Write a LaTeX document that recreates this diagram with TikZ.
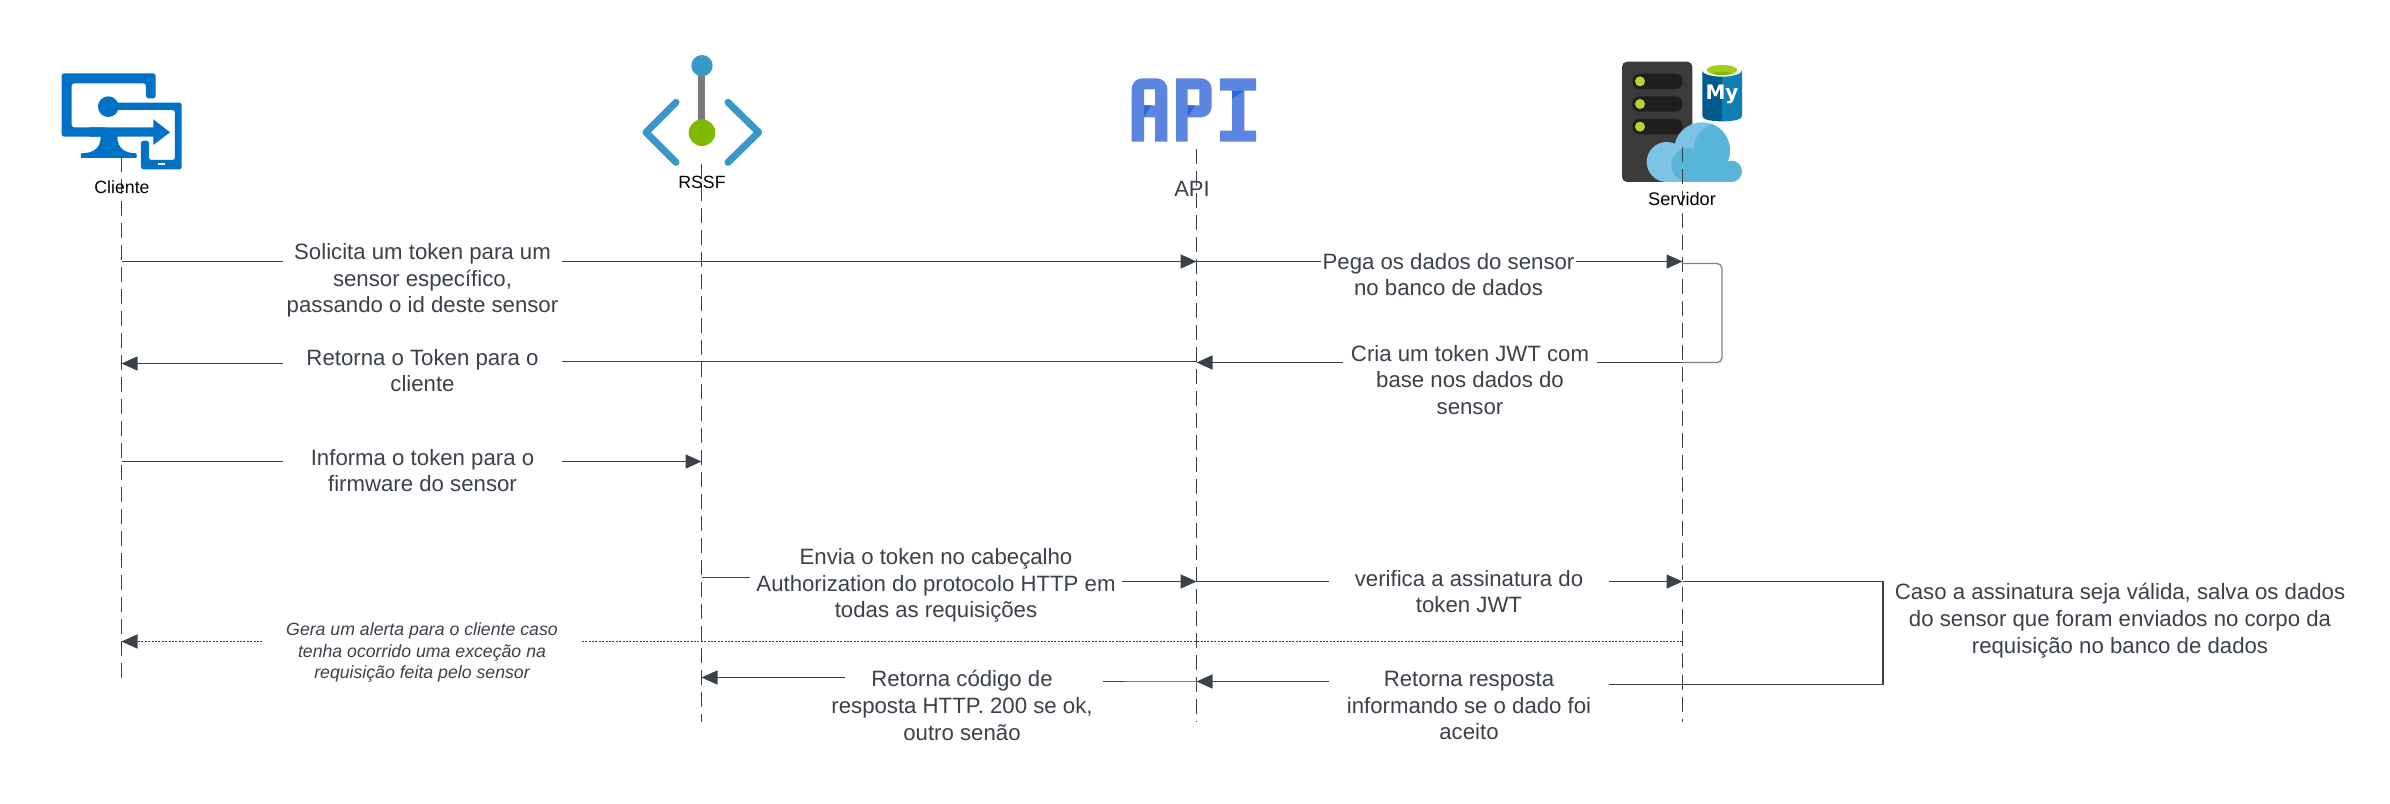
\documentclass[tikz,border=0pt]{standalone}
\usepackage{fontspec}
\setmainfont{Liberation Sans}
\newfontfamily\dejabold[BoldFont={DejaVu Sans Bold}]{DejaVu Sans}
\usetikzlibrary{arrows.meta,calc}
\definecolor{ink}{HTML}{3A414A}
\definecolor{azblue}{HTML}{0072C6}
\definecolor{azsky}{HTML}{3999C6}
\definecolor{azgreen}{HTML}{7FBA00}
\definecolor{azgrey}{HTML}{7A7A7A}
\definecolor{apiblue}{HTML}{5C85E0}
\definecolor{apidark}{HTML}{2F66DC}
\definecolor{srvbody}{HTML}{3B3B3B}
\definecolor{srvslot}{HTML}{1F1F1F}
\definecolor{srvled}{HTML}{B8D432}
\definecolor{dbdark}{HTML}{005A8C}
\definecolor{dblight}{HTML}{0F7FB4}
\definecolor{dbgreen}{HTML}{A8CC1E}
\definecolor{cloudlight}{HTML}{7DC3E3}
\definecolor{clouddark}{HTML}{59B4D9}
\tikzset{
  x=1pt,y=-1pt,
  lifeline/.style={draw=ink,line width=1.2pt,dash pattern=on 15pt off 7pt},
  msg/.style={draw=ink,line width=1.4pt},
  msgarrow/.style={msg,-{Triangle[length=16pt,width=14pt]}},
  msgfaint/.style={draw=ink!65,line width=1.3pt},
  msgdot/.style={draw=ink,line width=1.5pt,dash pattern=on 2pt off 1.4pt},
  lab/.style={text=ink,align=center,inner sep=0pt,font=\fontsize{22.2}{26.7}\selectfont},
  labit/.style={text=ink,align=center,inner sep=0pt,font=\itshape\fontsize{17.7}{21.5}\selectfont},
  actor/.style={text=black,inner sep=0pt,font=\fontsize{17.7}{21}\selectfont},
}
\begin{document}
\begin{tikzpicture}
\fill[white] (0,0) rectangle (2390,803);
\useasboundingbox (0,0) rectangle (2390,803);

% --- Cliente icon
\begin{scope}[xshift=40pt,yshift=-50pt,x=0.3333pt,y=-0.3333pt]
  \fill[azblue,rounded corners=2.5pt] (65,70) -- (347,70) -- (347,145) -- (318,145) -- (318,100) -- (95,100) -- (95,232) -- (200,232) -- (200,260) -- (65,260) -- cycle;
  \fill[azblue] (150,232) -- (340,232) -- (340,208) -- (390,247) -- (340,285) -- (340,260) -- (232,260)
     .. controls (232,295) and (255,310) .. (290,310) -- (290,324) -- (123,324) -- (123,310)
     .. controls (160,310) and (182,295) .. (182,260) -- (150,260) -- cycle;
  \fill[azblue] (205,170) circle (31);
  \fill[azblue,rounded corners=2.5pt] (225,158) -- (425,158) -- (425,358) -- (303,358) -- (303,272) -- (327,272) -- (327,330) -- (405,330) -- (405,180) -- (225,180) -- cycle;
  \fill[white] (354,338) rectangle (376,344);
\end{scope}

% --- RSSF icon
\begin{scope}[xshift=620pt,yshift=-40pt,x=0.3333pt,y=-0.3333pt]
  \fill[azgrey] (235,95) rectangle (256,250);
  \fill[azsky] (246,77) circle (32);
  \fill[azgreen] (246,278) circle (40);
  \draw[azsky,line width=7pt,line cap=round,line join=round] (168,187) -- (78,277) -- (168,367);
  \draw[azsky,line width=7pt,line cap=round,line join=round] (324,187) -- (416,277) -- (324,367);
\end{scope}

% --- API icon
\begin{scope}[xshift=1110pt,yshift=-60pt,x=0.3333pt,y=-0.3333pt]
  \fill[apiblue,even odd rule] (65,245) -- (65,90) .. controls (65,68) and (78,55) .. (100,55) -- (137,55) .. controls (159,55) and (172,68) .. (172,90) -- (172,245) -- (135,245) -- (135,172) -- (102,172) -- (102,245) -- cycle
     (102,88) rectangle (135,136);
  \fill[apidark] (102,136) -- (125,136) -- (102,170) -- cycle;
  \fill[apiblue,even odd rule] (198,245) -- (198,55) -- (270,55) .. controls (292,55) and (305,68) .. (305,90) -- (305,137) .. controls (305,159) and (292,172) .. (270,172) -- (233,172) -- (233,245) -- cycle
     (233,88) rectangle (268,136);
  \fill[apidark] (233,136) -- (255,136) -- (233,170) -- cycle;
  \fill[apiblue] (330,55) -- (438,55) -- (438,92) -- (403,92) -- (403,212) -- (438,212) -- (438,245) -- (330,245) -- (330,212) -- (366,212) -- (366,92) -- (330,92) -- cycle;
  \fill[apidark] (366,92) -- (403,92) -- (366,117) -- cycle;
\end{scope}

% --- Servidor icon
\begin{scope}[xshift=1600pt,yshift=-50pt,x=0.3333pt,y=-0.3333pt]
  \fill[srvbody,rounded corners=5pt] (66,35) rectangle (277,396);
  \foreach \yy in {71,139,207}{
    \fill[srvslot,rounded corners=7pt] (97,\yy) rectangle (248,\yy+46);
    \fill[srvled] (120,\yy+23) circle (15);
  }
  % database
  \fill[dbdark] (307,60) -- (366,60) -- (366,214) .. controls (330,214) and (307,208) .. (307,198) -- cycle;
  \fill[dblight] (366,60) -- (426,60) -- (426,198) .. controls (426,208) and (402,214) .. (366,214) -- cycle;
  \fill[white] (366,60) ellipse (60 and 20);
  \fill[dbgreen] (366,60) ellipse (46 and 15);
  \begin{scope}
    \clip (366,60) ellipse (46 and 15);
    \fill[azgreen] (366,78) ellipse (36 and 13);
  \end{scope}
  \node[text=white,inner sep=0pt,font=\dejabold\bfseries\fontsize{20}{20}\selectfont] (mylogo) at (366,133) {My};
  % cloud
  \fill[cloudlight] (200,336) circle (60);
  \fill[cloudlight] (306,301) circle (84);
  \fill[cloudlight] (200,340) rectangle (394,396);
  \fill[clouddark] (394,364) circle (32);
  \fill[clouddark] (265,345) circle (51);
  \fill[clouddark] (265,345) rectangle (394,396);
  \begin{scope}
    \clip (306,301) circle (84);
    \fill[clouddark] (365,300) circle (84);
  \end{scope}
\end{scope}

% --- Lifeline ends
\coordinate (cliT) at (121.5,157); \coordinate (cliB) at (121.5,682);
\coordinate (rssT) at (701.5,164); \coordinate (rssB) at (701.5,722);
\coordinate (apiT) at (1196.5,149); \coordinate (apiB) at (1196.5,722);
\coordinate (srvT) at (1682.5,147); \coordinate (srvB) at (1682.5,722);
\draw[lifeline] (cliT) -- (cliB);
\draw[lifeline] (rssT) -- (rssB);
\draw[lifeline] (apiT) -- (apiB);
\draw[lifeline] (srvT) -- (srvB);

% --- Actor names
\node[actor] (nCli) at (122,187) {Cliente};
\node[actor] (nRss) at (702,182) {RSSF};
\node[actor,text=ink,font=\fontsize{22}{26}\selectfont] (nApi) at (1192,189) {API};
\node[actor,font=\fontsize{18.2}{22}\selectfont] (nSrv) at (1682,199) {Servidor};

% --- Labels
\node[lab,minimum width=279pt] (l1) at (422.5,280.5) {Solicita um token para um\\sensor específico,\\passando o id deste sensor};
\node[lab,minimum width=279pt] (l2) at (422.5,370.5) {Retorna o Token para o\\cliente};
\node[lab,minimum width=279pt] (l3) at (422.5,470.5) {Informa o token para o\\firmware do sensor};
\node[lab,minimum width=372pt] (l4) at (936,585.5) {Envia o token no cabeçalho\\Authorization do protocolo HTTP em\\todas as requisições};
\node[labit,minimum width=319pt] (l5) at (422,652.5) {Gera um alerta para o cliente caso\\tenha ocorrido uma exceção na\\requisição feita pelo sensor};
\node[lab] (l6) at (962,705.5) {Retorna código de\\resposta HTTP. 200 se ok,\\outro senão};
\node[lab,minimum width=255pt] (l7) at (1448.5,274.5) {Pega os dados do sensor\\no banco de dados};
\node[lab,minimum width=254pt] (l8) at (1470,380) {Cria um token JWT com\\base nos dados do\\sensor};
\node[lab,minimum width=280pt] (l9) at (1469,591.5) {verifica a assinatura do\\token JWT};
\node[lab,minimum width=280pt] (l10) at (1469,705.5) {Retorna resposta\\informando se o dado foi\\aceito};
\node[lab] (l11) at (2120,620.5) {Caso a assinatura seja válida, salva os dados\\do sensor que foram enviados no corpo da\\requisição no banco de dados};

% --- Message anchors on the lifelines
\coordinate (a1) at (121.5,261.5); \coordinate (b1) at (1196.5,261.5);
\coordinate (a2) at (121.5,363.5); \coordinate (b2) at (1196.5,361.5);
\coordinate (a3) at (121.5,461.5); \coordinate (b3) at (701.5,461.5);
\coordinate (a4) at (701.5,577.5); \coordinate (b4) at (1196.5,581.5);
\coordinate (a5) at (121.5,641.5); \coordinate (b5) at (1682.5,641.5);
\coordinate (a6) at (701.5,677.5); \coordinate (b6) at (1196.5,681.5);
\coordinate (f6) at (1125,681.5);
\coordinate (a7) at (1196.5,261.5); \coordinate (b7) at (1682.5,261.5);
\coordinate (a8) at (1196.5,362.5); \coordinate (m8) at (1682.5,362.5); \coordinate (c8) at (1722,362.5); \coordinate (d8) at (1722,263.5); \coordinate (e8) at (1682.5,263.5);
\coordinate (a9) at (1196.5,581.5); \coordinate (b9) at (1682.5,581.5);
\coordinate (a10) at (1196.5,681.5); \coordinate (c10) at (1883,684.5); \coordinate (d10) at (1883,581.5);

% --- Connectors
\draw[msg] (a1) -- (l1.west |- a1);
\draw[msgarrow] (l1.east |- b1) -- (b1);
\draw[msgarrow] (l2.west |- a2) -- (a2);
\draw[msg] (b2) -- (l2.east |- b2);
\draw[msg] (a3) -- (l3.west |- a3);
\draw[msgarrow] (l3.east |- b3) -- (b3);
\draw[msg] (a4) -- (l4.west |- a4);
\draw[msgarrow] (l4.east |- b4) -- (b4);
\draw[msgdot,-{Triangle[length=16pt,width=14pt]}] (l5.west |- a5) -- (a5);
\draw[msgdot] (l5.east |- b5) -- (b5);
\draw[msgarrow] ([xshift=14pt]l6.west |- a6) -- (a6);
\draw[msg] ([xshift=10pt]l6.east |- b6) -- (f6);
\draw[msgfaint] (f6) -- (b6);
\draw[msg] (a7) -- (l7.west |- a7);
\draw[msgarrow] (l7.east |- b7) -- (b7);
\draw[msgarrow] (l8.west |- a8) -- (a8);
\draw[msg] (l8.east |- m8) -- (m8);
\draw[msgfaint,rounded corners=5pt] (m8) -- (c8) -- (d8) -- (e8);
\draw[msg] (a9) -- (l9.west |- a9);
\draw[msgarrow] (l9.east |- b9) -- (b9);
\draw[msgarrow] (l10.west |- a10) -- (a10);
\draw[msg] (l10.east |- c10) -- (c10) -- (d10) -- (b9);
\end{tikzpicture}
\end{document}
